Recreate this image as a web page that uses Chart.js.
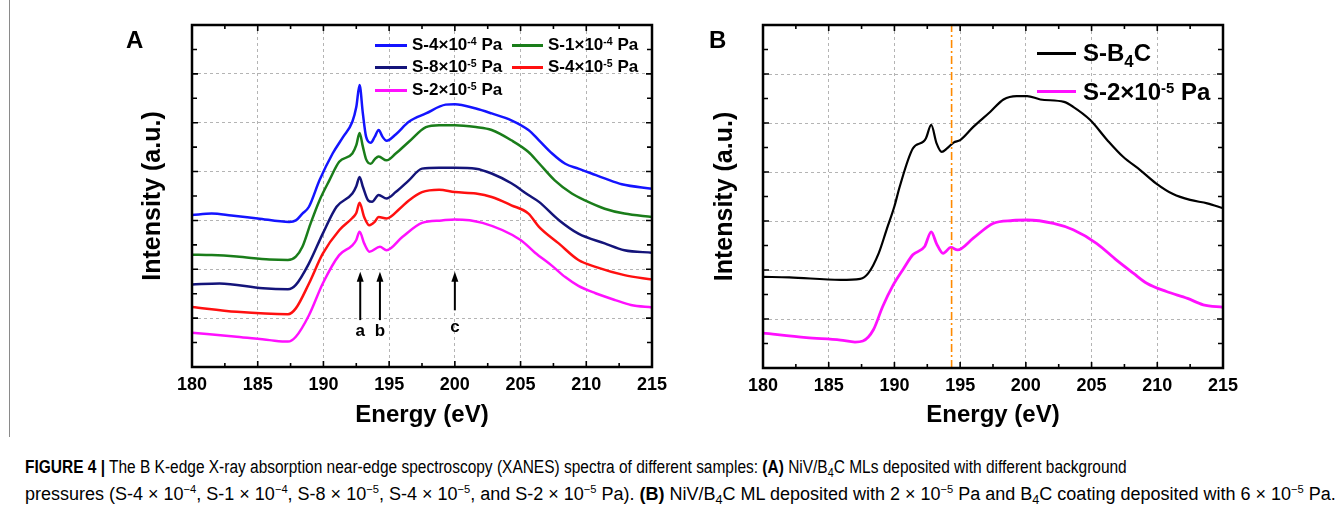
<!DOCTYPE html>
<html lang="en">
<head>
<meta charset="UTF-8">
<title>B K-edge XANES spectra</title>
<script src="https://cdn.jsdelivr.net/npm/chart.js"></script>
<style>
    body {
        margin: 0;
        width: 1342px;
        height: 519px;
        position: relative;
        overflow: hidden;
        background: #fff;
        font-family: "Liberation Sans", Arial, sans-serif;
        color: #000;
    }
    .panel { position: absolute; top: 0; }
    .frameline { position: absolute; left: 9px; top: 0; width: 1px; height: 437px; background: #8a8a8a; }
    .letter { position: absolute; font-weight: bold; font-size: 24px; line-height: 24px; }
    .sw { position: absolute; height: 3px; }
    .lt { position: absolute; font-weight: bold; white-space: nowrap; }
    .lt sup { font-size: 0.62em; position: relative; top: -0.5em; vertical-align: baseline; line-height: 0; }
    .lt sub { font-size: 0.7em; position: relative; top: 0.35em; vertical-align: baseline; line-height: 0; }
    .cap {
        position: absolute;
        left: 25px;
        font-family: "Liberation Sans", Arial, sans-serif;
        font-size: 18px;
        line-height: 20px;
        white-space: nowrap;
        transform-origin: left center;
    }
    .cap sup { font-size: 0.62em; position: relative; top: -0.6em; vertical-align: baseline; line-height: 0; }
    .cap sub { font-size: 0.7em; position: relative; top: 0.3em; vertical-align: baseline; line-height: 0; }
</style>
</head>
<body>
<div class="frameline"></div>

<div class="panel" style="left:0; width:680px; height:440px;"><canvas id="chartA" width="680" height="440"></canvas></div>
<div class="panel" style="left:680px; width:662px; height:440px;"><canvas id="chartB" width="662" height="440"></canvas></div>

<div class="letter" style="left:126px; top:28px;">A</div>
<div class="letter" style="left:709px; top:28px;">B</div>

<!-- legend A -->
<div class="sw" style="left:375px; top:44px; width:32px; background:#1414ff;"></div>
<div class="lt" style="left:412px; top:35px; font-size:17px;">S-4×10<sup>-4</sup> Pa</div>
<div class="sw" style="left:512px; top:44px; width:31px; background:#1a7d1a;"></div>
<div class="lt" style="left:548px; top:35px; font-size:17px;">S-1×10<sup>-4</sup> Pa</div>
<div class="sw" style="left:375px; top:66px; width:32px; background:#14147a;"></div>
<div class="lt" style="left:412px; top:57px; font-size:17px;">S-8×10<sup>-5</sup> Pa</div>
<div class="sw" style="left:512px; top:66px; width:31px; background:#ff1010;"></div>
<div class="lt" style="left:548px; top:57px; font-size:17px;">S-4×10<sup>-5</sup> Pa</div>
<div class="sw" style="left:375px; top:89px; width:32px; background:#ff10ff;"></div>
<div class="lt" style="left:412px; top:80px; font-size:17px;">S-2×10<sup>-5</sup> Pa</div>

<!-- legend B -->
<div class="sw" style="left:1037px; top:52px; width:39px; height:2.5px; background:#000;"></div>
<div class="lt" style="left:1083px; top:39px; font-size:24px;">S-B<sub>4</sub>C</div>
<div class="sw" style="left:1037px; top:90px; width:39px; background:#ff10ff;"></div>
<div class="lt" style="left:1083px; top:78px; font-size:24px;">S-2×10<sup>-5</sup> Pa</div>

<div class="cap" data-w="1102" style="top:457px;"><b>FIGURE 4 |</b> The B K-edge X-ray absorption near-edge spectroscopy (XANES) spectra of different samples: <b>(A)</b> NiV/B<sub>4</sub>C MLs deposited with different background</div>
<div class="cap" data-w="1311" style="top:484px;">pressures (S-4 × 10<sup>−4</sup>, S-1 × 10<sup>−4</sup>, S-8 × 10<sup>−5</sup>, S-4 × 10<sup>−5</sup>, and S-2 × 10<sup>−5</sup> Pa). <b>(B)</b> NiV/B<sub>4</sub>C ML deposited with 2 × 10<sup>−5</sup> Pa and B<sub>4</sub>C coating deposited with 6 × 10<sup>−5</sup> Pa.</div>

<script>
    // axis ticks
    const energyTicks = [180, 185, 190, 195, 200, 205, 210, 215];
    const intensityTicks = [0, 1, 2, 3, 4, 5, 6, 7];

    // panel A: S-4x10^-4 Pa (blue)
    const eBlue = [180, 181.5, 183, 185, 187.4, 187.9, 188.4, 188.9, 189.7, 190.7, 191.5, 192.2, 192.5, 192.75, 193.0, 193.25, 193.6, 193.9, 194.2, 194.5, 194.8, 195.5, 196.5, 197.8, 199.3, 200.0, 201.6, 202.8, 204.3, 205.6, 206.4, 207.4, 208.4, 209.4, 210.4, 211.4, 212.7, 215];
    const iBlue = [3.11, 3.14, 3.10, 3.04, 2.97, 3.00, 3.14, 3.28, 3.82, 4.37, 4.71, 5.02, 5.32, 5.77, 5.19, 4.71, 4.59, 4.71, 4.85, 4.71, 4.63, 4.76, 5.02, 5.19, 5.37, 5.38, 5.29, 5.19, 5.05, 4.85, 4.64, 4.37, 4.16, 4.06, 3.96, 3.86, 3.74, 3.65];

    // S-1x10^-4 Pa (green)
    const eGreen = [180, 181.5, 183.4, 185.9, 187.3, 187.9, 188.4, 189.0, 189.7, 190.45, 191.2, 192.2, 192.5, 192.75, 193.0, 193.25, 193.6, 193.9, 194.2, 194.8, 195.5, 196.5, 197.8, 198.8, 200.0, 201.6, 202.8, 204.3, 205.6, 206.4, 207.6, 208.9, 209.9, 211.4, 212.9, 215];
    const iGreen = [2.30, 2.29, 2.26, 2.20, 2.19, 2.26, 2.46, 2.92, 3.41, 3.82, 4.20, 4.37, 4.54, 4.79, 4.51, 4.25, 4.16, 4.25, 4.31, 4.23, 4.37, 4.61, 4.91, 4.95, 4.95, 4.91, 4.85, 4.64, 4.40, 4.17, 3.82, 3.55, 3.41, 3.24, 3.14, 3.07];

    // S-8x10^-5 Pa (navy)
    const eNavy = [180, 182.1, 185.4, 187.3, 187.9, 188.9, 189.95, 191.0, 192.2, 192.5, 192.75, 193.0, 193.4, 193.7, 194.2, 194.8, 195.5, 196.5, 197.5, 198.8, 200.0, 201.6, 202.8, 204.3, 205.6, 206.4, 207.9, 209.4, 211.4, 212.9, 215];
    const iNavy = [1.69, 1.71, 1.61, 1.59, 1.68, 2.12, 2.73, 3.28, 3.55, 3.70, 3.89, 3.69, 3.41, 3.38, 3.52, 3.45, 3.58, 3.82, 4.06, 4.08, 4.08, 4.06, 3.96, 3.76, 3.52, 3.38, 3.01, 2.73, 2.53, 2.39, 2.34];

    // S-4x10^-5 Pa (red)
    const eRed = [180, 183.4, 187.3, 187.9, 188.9, 189.95, 191.2, 192.2, 192.5, 192.75, 193.1, 193.5, 193.9, 194.2, 194.8, 195.8, 196.5, 197.5, 198.8, 200.0, 201.6, 202.8, 204.3, 205.6, 206.4, 207.9, 209.4, 210.7, 212.9, 215];
    const iRed = [1.23, 1.13, 1.08, 1.20, 1.71, 2.32, 2.80, 3.05, 3.15, 3.36, 3.07, 2.90, 2.97, 3.07, 3.04, 3.24, 3.41, 3.58, 3.63, 3.58, 3.55, 3.48, 3.31, 3.14, 2.87, 2.53, 2.19, 2.05, 1.88, 1.79];

    // S-2x10^-5 Pa (magenta), panel A
    const eMagA = [180, 183.4, 185.9, 187.3, 187.9, 188.9, 189.95, 191.2, 192.2, 192.5, 192.75, 193.1, 193.5, 194.3, 194.8, 196.0, 197.5, 199.0, 200.0, 202.1, 205.0, 206.1, 207.4, 208.4, 209.4, 210.7, 212.2, 213.4, 215];
    const iMagA = [0.70, 0.62, 0.55, 0.52, 0.62, 1.06, 1.71, 2.29, 2.49, 2.60, 2.77, 2.53, 2.36, 2.46, 2.39, 2.66, 2.95, 3.00, 3.02, 2.95, 2.60, 2.34, 2.07, 1.84, 1.66, 1.51, 1.37, 1.27, 1.22];

    // panel B: S-B4C (black)
    const eB4C = [180, 182.0, 185.9, 187.4, 188.0, 188.8, 189.4, 190.0, 190.4, 191.4, 192.2, 192.4, 192.8, 193.2, 193.6, 194.0, 194.5, 195.0, 196.0, 197.3, 198.3, 199.3, 200.1, 201.1, 202.9, 203.6, 204.9, 206.2, 207.4, 208.7, 209.9, 211.2, 212.5, 213.8, 215];
    const iB4C = [1.86, 1.85, 1.80, 1.82, 1.93, 2.34, 2.82, 3.30, 3.70, 4.48, 4.62, 4.69, 4.96, 4.59, 4.41, 4.48, 4.60, 4.65, 4.92, 5.23, 5.48, 5.55, 5.55, 5.48, 5.43, 5.33, 5.06, 4.65, 4.31, 4.04, 3.77, 3.55, 3.43, 3.36, 3.26];

    // S-2x10^-5 Pa (magenta), panel B
    const eMagB = [180, 183.3, 185.9, 187.0, 187.6, 188.4, 189.1, 189.9, 190.7, 191.4, 192.3, 192.8, 193.2, 193.7, 194.3, 194.8, 196.0, 197.5, 199.0, 200.1, 202.1, 203.6, 205.4, 206.9, 208.2, 209.2, 210.7, 212.3, 213.5, 215];
    const iMagB = [0.71, 0.62, 0.57, 0.53, 0.55, 0.78, 1.25, 1.69, 2.03, 2.31, 2.48, 2.78, 2.54, 2.34, 2.46, 2.41, 2.65, 2.95, 3.01, 3.02, 2.95, 2.82, 2.54, 2.20, 1.93, 1.73, 1.56, 1.42, 1.29, 1.24];

    // peak markers in panel A
    const arrowEnergy = [192.8, 194.3, 200.0];
    const arrowLabel = ['a', 'b', 'c'];
    const arrowTail = [0.96, 0.96, 1.16];
    const arrowTip = 1.95;
    const arrowTextY = [0.74, 0.74, 0.82];

    // reference energy line in panel B
    const refEnergy = 194.35;

    const pts = (xs, ys) => xs.map((x, i) => ({ x: x, y: ys[i] }));

    function series(label, xs, ys, color, width) {
        return {
            label: label,
            data: pts(xs, ys),
            borderColor: color,
            borderWidth: width || 2.5,
            pointRadius: 0,
            cubicInterpolationMode: 'monotone',
            fill: false
        };
    }

    // box frame with inward major/minor ticks on all four sides
    const framePlugin = {
        id: 'frame',
        afterDatasetsDraw(chart) {
            const { ctx, chartArea: a, scales } = chart;
            const x = scales.x, y = scales.y;
            ctx.save();
            ctx.strokeStyle = '#000';
            ctx.lineWidth = 1.6;
            ctx.beginPath();
            for (let i = 0; i < energyTicks.length; i++) {
                const vals = [energyTicks[i]];
                if (i < energyTicks.length - 1) vals.push((energyTicks[i] + energyTicks[i + 1]) / 2);
                vals.forEach((v, k) => {
                    const px = x.getPixelForValue(v);
                    const len = k === 0 ? 6 : 4;
                    ctx.moveTo(px, a.bottom); ctx.lineTo(px, a.bottom - len);
                    ctx.moveTo(px, a.top); ctx.lineTo(px, a.top + len);
                });
            }
            for (let i = 0; i < intensityTicks.length; i++) {
                const vals = [intensityTicks[i]];
                if (i < intensityTicks.length - 1) vals.push((intensityTicks[i] + intensityTicks[i + 1]) / 2);
                vals.forEach((v, k) => {
                    const py = y.getPixelForValue(v);
                    const len = k === 0 ? 6 : 5;
                    ctx.moveTo(a.left, py); ctx.lineTo(a.left + len, py);
                    ctx.moveTo(a.right, py); ctx.lineTo(a.right - len, py);
                });
            }
            ctx.stroke();
            ctx.lineWidth = 2.5;
            ctx.strokeRect(a.left, a.top, a.right - a.left, a.bottom - a.top);
            ctx.restore();
        }
    };

    const arrowPlugin = {
        id: 'arrows',
        afterDatasetsDraw(chart) {
            const { ctx, scales: { x, y } } = chart;
            ctx.save();
            ctx.strokeStyle = '#000';
            ctx.fillStyle = '#000';
            ctx.lineWidth = 2;
            ctx.font = 'bold 17px "Liberation Sans", Arial, sans-serif';
            ctx.textAlign = 'center';
            ctx.textBaseline = 'middle';
            arrowEnergy.forEach((e, i) => {
                const px = x.getPixelForValue(e);
                const tip = y.getPixelForValue(arrowTip);
                const tail = y.getPixelForValue(arrowTail[i]);
                ctx.beginPath();
                ctx.moveTo(px, tail);
                ctx.lineTo(px, tip + 8);
                ctx.stroke();
                ctx.beginPath();
                ctx.moveTo(px, tip);
                ctx.lineTo(px - 3.5, tip + 10);
                ctx.lineTo(px + 3.5, tip + 10);
                ctx.closePath();
                ctx.fill();
                ctx.fillText(arrowLabel[i], px, y.getPixelForValue(arrowTextY[i]));
            });
            ctx.restore();
        }
    };

    function makeOptions(yWidth, yTitlePad, xHeight, rightPad) {
        return {
            responsive: false,
            animation: false,
            layout: { padding: { top: 25, right: rightPad, left: 0, bottom: 0 } },
            plugins: { legend: { display: false }, tooltip: { enabled: false } },
            scales: {
                x: {
                    type: 'linear',
                    min: 180,
                    max: 215,
                    afterBuildTicks: s => { s.ticks = energyTicks.map(v => ({ value: v })); },
                    afterFit: s => { s.height = xHeight; },
                    grid: { color: '#b4b4b4', lineWidth: 1, drawTicks: false },
                    border: { display: false, dash: [3, 3] },
                    ticks: {
                        color: '#000',
                        padding: 7,
                        maxRotation: 0,
                        autoSkip: false,
                        font: { family: '"Liberation Sans", Arial, sans-serif', size: 18, weight: 'bold' }
                    },
                    title: {
                        display: true,
                        text: 'Energy (eV)',
                        color: '#000',
                        padding: { top: 0, bottom: 10 },
                        font: { family: '"Liberation Sans", Arial, sans-serif', size: 24, weight: 'bold' }
                    }
                },
                y: {
                    min: 0,
                    max: 7,
                    afterBuildTicks: s => { s.ticks = intensityTicks.map(v => ({ value: v })); },
                    afterFit: s => { s.width = yWidth; },
                    grid: { color: '#b4b4b4', lineWidth: 1, drawTicks: false },
                    border: { display: false, dash: [3, 3] },
                    ticks: { display: false },
                    title: {
                        display: true,
                        text: 'Intensity (a.u.)',
                        color: '#000',
                        padding: { top: yTitlePad, bottom: 0 },
                        font: { family: '"Liberation Sans", Arial, sans-serif', size: 25, weight: 'bold' }
                    }
                }
            }
        };
    }

    new Chart(document.getElementById('chartA'), {
        type: 'line',
        data: {
            datasets: [
                series('S-4×10^-4 Pa', eBlue, iBlue, '#1414ff'),
                series('S-1×10^-4 Pa', eGreen, iGreen, '#1a7d1a'),
                series('S-8×10^-5 Pa', eNavy, iNavy, '#14147a'),
                series('S-4×10^-5 Pa', eRed, iRed, '#ff1010'),
                series('S-2×10^-5 Pa', eMagA, iMagA, '#ff10ff')
            ]
        },
        options: makeOptions(192, 138, 73, 28),
        plugins: [framePlugin, arrowPlugin]
    });

    new Chart(document.getElementById('chartB'), {
        type: 'line',
        data: {
            datasets: [
                {
                    label: 'ref',
                    data: [{ x: refEnergy, y: 0 }, { x: refEnergy, y: 7 }],
                    borderColor: '#ff8a00',
                    borderWidth: 1.6,
                    borderDash: [8, 3, 2, 3],
                    pointRadius: 0
                },
                series('S-B4C', eB4C, iB4C, '#000', 2.2),
                series('S-2×10^-5 Pa', eMagB, iMagB, '#ff10ff', 2.8)
            ]
        },
        options: makeOptions(83, 30, 72, 119),
        plugins: [framePlugin]
    });

    // squeeze caption lines to the width of the original narrow type
    document.querySelectorAll('.cap').forEach(el => {
        const natural = el.scrollWidth;
        const target = +el.dataset.w;
        el.style.transform = 'scaleX(' + (target / natural) + ')';
    });
</script>
</body>
</html>
